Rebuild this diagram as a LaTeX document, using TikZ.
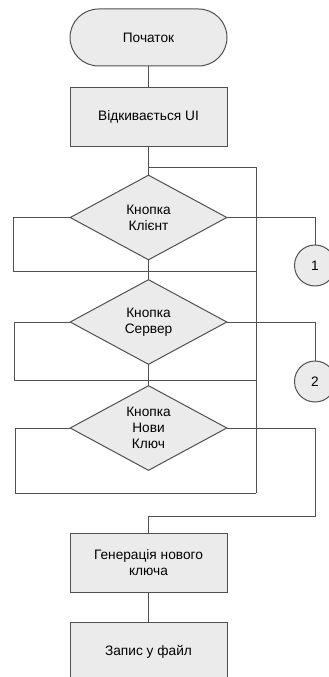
\documentclass[tikz,border=0pt]{standalone}
\usepackage{fontspec}
\setmainfont{Liberation Sans}
\usetikzlibrary{shapes.geometric}
\definecolor{fillg}{HTML}{EBEBEB}
\definecolor{lineg}{HTML}{505050}
\begin{document}
\begin{tikzpicture}[x=1pt,y=-1pt,
  line width=1pt,
  every node/.style={font=\fontsize{13.7}{16.5}\selectfont, text=black},
  proc/.style={draw=lineg, fill=fillg, rectangle, minimum width=157pt, minimum height=59pt, inner sep=0pt, align=center},
  term/.style={draw=lineg, fill=fillg, rectangle, rounded corners=28.5pt, minimum width=157pt, minimum height=57pt, inner sep=0pt},
  dec/.style={draw=lineg, fill=fillg, diamond, aspect=1.83, minimum width=157pt, minimum height=85pt, inner sep=0pt, align=center, font=\fontsize{13.7}{16}\selectfont},
  conn/.style={draw=lineg, fill=fillg, circle, minimum size=41pt, inner sep=0pt},
  ln/.style={draw=lineg, line width=1pt}]
\useasboundingbox (0,0) rectangle (329,677);
\clip (0,0) rectangle (329,677);
\fill[white] (0,0) rectangle (329,677);

% helper coordinates
\coordinate (j0) at (148.5,167);
\coordinate (jr0) at (256,167);
\coordinate (l1a) at (13,217.5);
\coordinate (l1b) at (13,271);
\coordinate (m1) at (148.5,271);
\coordinate (r1b) at (256,271);
\coordinate (r1a) at (315,217.5);
\coordinate (l2a) at (14,322);
\coordinate (l2b) at (14,380);
\coordinate (m2) at (148.5,380);
\coordinate (r2b) at (256,380);
\coordinate (r2a) at (315,322);
\coordinate (l3a) at (15,428);
\coordinate (l3b) at (15,493);
\coordinate (r3b) at (256,493);
\coordinate (r3a) at (315,428);
\coordinate (r3c) at (315,516);
\coordinate (m3) at (148.5,516);

% connectors (drawn first, behind nodes)
\draw[ln] (148.5,66) -- (148.5,87);
\draw[ln] (148.5,146) -- (j0) -- (jr0) -- (r3b);
\draw[ln] (148.5,175) -- (j0);
\draw[ln] (70,217.5) -- (l1a) -- (l1b) -- (r1b);
\draw[ln] (148.5,260) -- (m1) -- (148.5,280);
\draw[ln] (227,217.5) -- (r1a) -- (315,245);
\draw[ln] (70,322) -- (l2a) -- (l2b) -- (r2b);
\draw[ln] (148.5,364) -- (m2) -- (148.5,386);
\draw[ln] (227,322) -- (r2a) -- (315,361);
\draw[ln] (70,428) -- (l3a) -- (l3b) -- (r3b);
\draw[ln] (227,428) -- (r3a) -- (r3c) -- (m3) -- (148.5,533);
\draw[ln] (148.5,592) -- (148.5,622);

% nodes
\node[term] (start) at (148.5,37.5) {Початок};
\node[proc] (ui) at (148.5,116.5) {Відкивається UI};
\node[dec] (d1) at (148.5,217.5) {Кнопка\\Клієнт};
\node[dec] (d2) at (148.5,322) {Кнопка\\Сервер};
\node[dec] (d3) at (148.5,428) {Кнопка\\Нови\\Ключ};
\node[conn] (c1) at (315,265.5) {1};
\node[conn] (c2) at (315,381.5) {2};
\node[proc] (gen) at (148.5,562.5) {Генерація нового\\ключа};
\node[proc] (save) at (148.5,651.5) {Запис у файл};
\end{tikzpicture}
\end{document}
